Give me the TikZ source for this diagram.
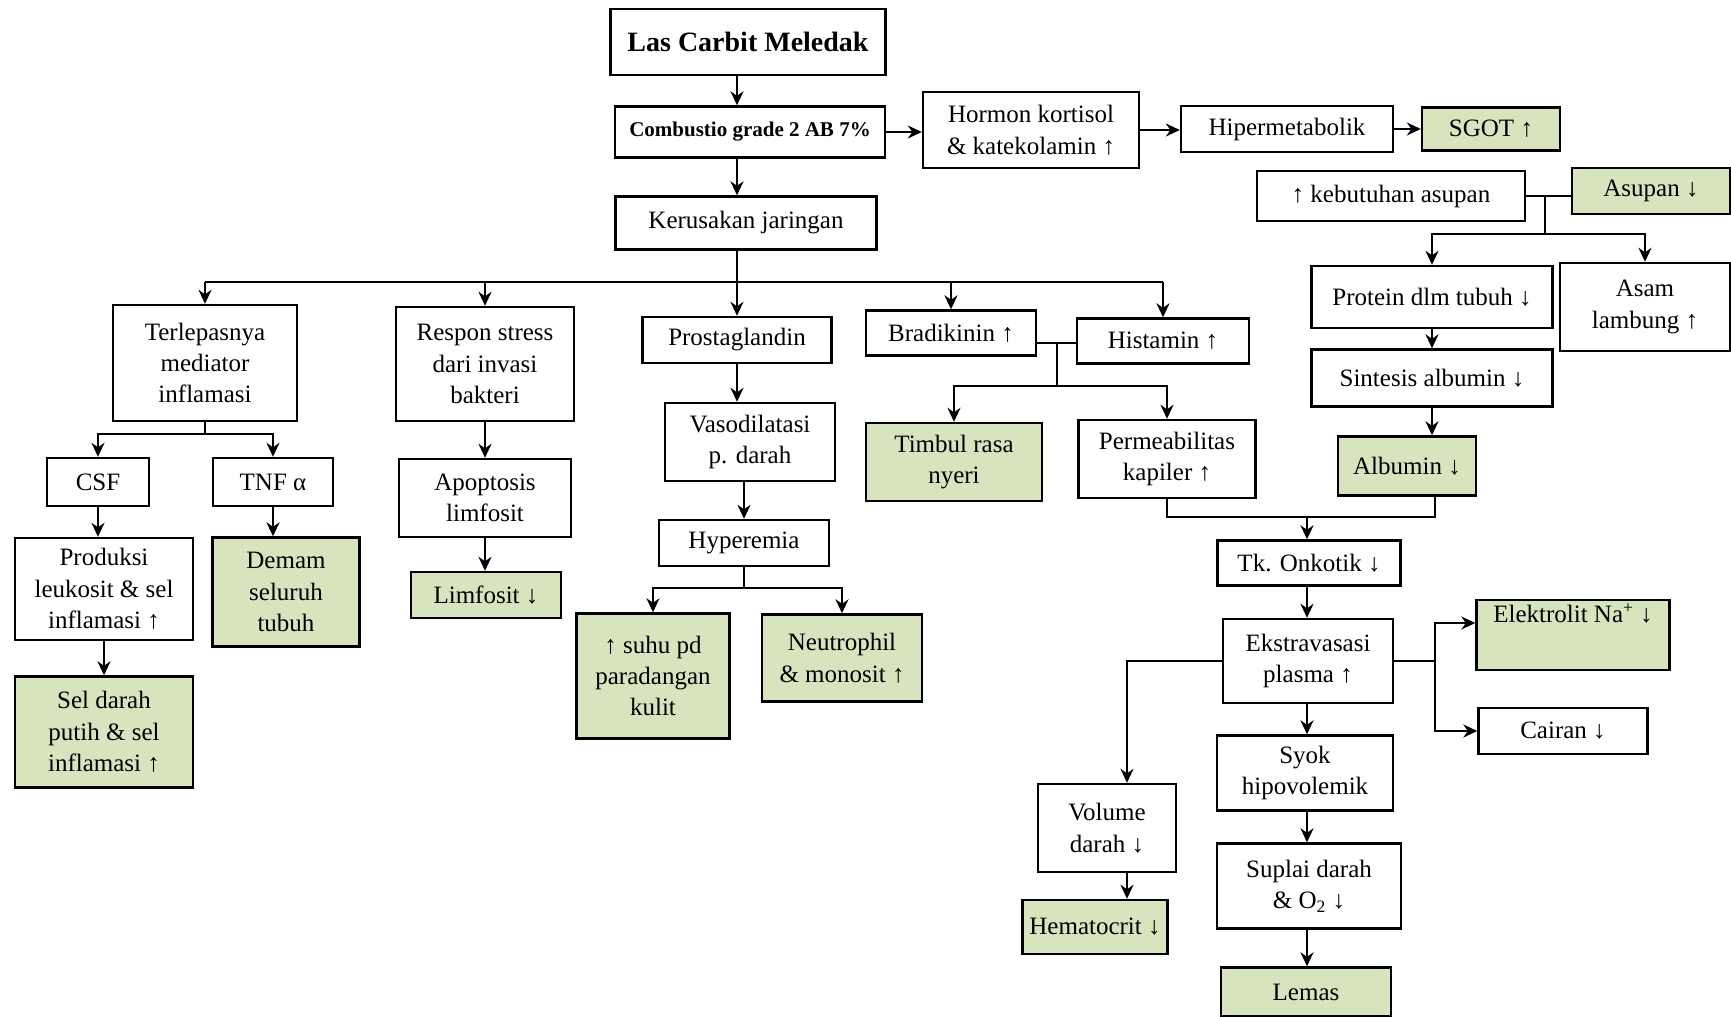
\documentclass[tikz,border=0pt]{standalone}
\usepackage{fontspec}
\setmainfont{Liberation Serif}
\usetikzlibrary{arrows.meta}

\definecolor{hasil}{HTML}{D7E4BD}
\tikzset{
    box/.style={draw, line width=1.2pt, fill=white, align=center, inner sep=2pt,
        font=\fontsize{12.5}{15.7}\selectfont},
    hbox/.style={box, fill=hasil},
    link/.style={line width=1.1pt},
    arr/.style={-{Stealth[length=7pt,width=6.5pt]}, line width=1.1pt},
}

\begin{document}
\begin{tikzpicture}[x=0.5pt,y=-0.5pt]
        \useasboundingbox (0,0) rectangle (1731,1017);

        % top chain
        \node[box, font=\fontsize{14}{16}\selectfont\bfseries, minimum width=137.5pt, minimum height=33pt] (Las) at (748,42) {Las Carbit Meledak};
        \node[box, font=\fontsize{10.5}{13}\selectfont\bfseries, minimum width=135pt, minimum height=25.5pt] (Comb) at (750,132) {Combustio grade 2 AB 7\%};
        \node[box, minimum width=130.5pt, minimum height=26.5pt] (Kerus) at (746,223) {Kerusakan jaringan};
        \node[box, minimum width=108pt, minimum height=38pt] (Horm) at (1031,130) {Hormon kortisol\\\& katekolamin ↑};
        \node[box, minimum width=106pt, minimum height=23pt] (Hiper) at (1287,129) {Hipermetabolik};
        \node[hbox, minimum width=69pt, minimum height=21.5pt] (SGOT) at (1491,129) {SGOT ↑};

        % asupan nodes
        \node[box, minimum width=134pt, minimum height=25pt] (Kebut) at (1391,196) {↑ kebutuhan asupan};
        \node[hbox, minimum width=79pt, minimum height=23pt] (Asupan) at (1651,191) {Asupan ↓};
        \node[box, minimum width=120.5pt, minimum height=31pt] (Protein) at (1432,297) {Protein dlm tubuh ↓};
        \node[box, minimum width=85pt, minimum height=44pt] (Asam) at (1645,307) {Asam\\lambung ↑};
        \node[box, minimum width=120.5pt, minimum height=28.5pt] (Sintesis) at (1432,378) {Sintesis albumin ↓};
        \node[hbox, minimum width=69pt, minimum height=29.5pt] (Albumin) at (1407,466) {Albumin ↓};

        % second row nodes
        \node[box, minimum width=92pt, minimum height=58pt] (Terlepas) at (205,363) {Terlepasnya\\mediator\\inflamasi};
        \node[box, minimum width=89pt, minimum height=57pt] (Respon) at (485,364) {Respon stress\\dari invasi\\bakteri};
        \node[box, minimum width=94.5pt, minimum height=23pt] (Prosta) at (737,340) {Prostaglandin};
        \node[box, minimum width=85pt, minimum height=22.5pt] (Bradi) at (951,333) {Bradikinin ↑};
        \node[box, minimum width=86pt, minimum height=22.5pt] (Hista) at (1163,341) {Histamin ↑};

        % mediator and stress nodes
        \node[box, minimum width=51pt, minimum height=24pt] (CSF) at (98,482) {CSF};
        \node[box, minimum width=60pt, minimum height=24pt] (TNF) at (273,482) {TNF α};
        \node[box, minimum width=89pt, minimum height=51pt] (Produksi) at (104,589) {Produksi\\leukosit \& sel\\inflamasi ↑};
        \node[hbox, minimum width=73.5pt, minimum height=54.5pt] (Demam) at (286,592) {Demam\\seluruh\\tubuh};
        \node[hbox, minimum width=89pt, minimum height=55.5pt] (SelDarah) at (104,732) {Sel darah\\putih \& sel\\inflamasi ↑};
        \node[box, minimum width=86pt, minimum height=39pt] (Apop) at (485,498) {Apoptosis\\limfosit};
        \node[hbox, minimum width=75pt, minimum height=23pt] (Limfo) at (486,595) {Limfosit ↓};

        % prostaglandin nodes
        \node[box, minimum width=85pt, minimum height=39pt] (Vaso) at (750,442) {Vasodilatasi\\p. darah};
        \node[box, minimum width=85pt, minimum height=23pt] (Hyper) at (744,543) {Hyperemia};
        \node[hbox, minimum width=76.5pt, minimum height=62.5pt] (Suhu) at (653,676) {↑ suhu pd\\paradangan\\kulit};
        \node[hbox, minimum width=80pt, minimum height=43.5pt] (Neutro) at (842,658) {Neutrophil\\\& monosit ↑};

        % bradikinin / histamin nodes
        \node[hbox, minimum width=88pt, minimum height=39pt] (Timbul) at (954,462) {Timbul rasa\\nyeri};
        \node[box, minimum width=88.5pt, minimum height=39pt] (Perme) at (1167,459) {Permeabilitas\\kapiler ↑};

        % plasma nodes
        \node[box, minimum width=91.5pt, minimum height=22.5pt] (Onkotik) at (1309,563) {Tk. Onkotik ↓};
        \node[box, minimum width=85pt, minimum height=42pt] (Ekstra) at (1308,661) {Ekstravasasi\\plasma ↑};
        \node[hbox, minimum width=96.5pt, minimum height=34.5pt] (Elektro) at (1573,635) {Elektrolit Na\textsuperscript{+} ↓\\[6pt]};
        \node[box, minimum width=84.5pt, minimum height=23pt] (Cairan) at (1563,731) {Cairan ↓};
        \node[box, minimum width=88pt, minimum height=37.5pt] (Syok) at (1305,773) {Syok\\hipovolemik};
        \node[box, minimum width=92pt, minimum height=42.5pt] (Suplai) at (1309,886) {Suplai darah\\\& O\textsubscript{2} ↓};
        \node[hbox, minimum width=85pt, minimum height=24.5pt] (Lemas) at (1306,992) {Lemas};
        \node[box, minimum width=69pt, minimum height=44pt] (Volume) at (1107,828) {Volume\\darah ↓};
        \node[hbox, minimum width=72.5pt, minimum height=27pt] (Hemato) at (1095,927) {Hematocrit ↓};

        % junction points
        \coordinate (bus) at (737,282);
        \coordinate (terlsplit) at (205,434);
        \coordinate (bhjoin) at (1057,343);
        \coordinate (bhsplit) at (1057,386);
        \coordinate (hypsplit) at (744,588);
        \coordinate (kajoin) at (1545,196);
        \coordinate (kasplit) at (1545,234);
        \coordinate (onk) at (1307,517);
        \coordinate (ekright) at (1435,659);
        \coordinate (plasma) at (1307,661);

        % top arrows
        \draw[arr] (Las.south -| bus) -- (Comb.north -| bus);
        \draw[arr] (Comb.south -| bus) -- (Kerus.north -| bus);
        \draw[arr] (Comb.east) -- (Comb.east -| Horm.west);
        \draw[arr] (Horm.east) -- (Horm.east -| Hiper.west);
        \draw[arr] (Hiper) -- (SGOT);

        % bus from kerusakan jaringan
        \draw[link] (Kerus.south -| bus) -- (bus);
        \draw[link] (bus -| Terlepas) -- (bus -| Hista);
        \draw[arr] (bus -| Terlepas) -- (Terlepas.north);
        \draw[arr] (bus -| Respon) -- (Respon.north);
        \draw[arr] (bus) -- (Prosta.north -| bus);
        \draw[arr] (bus -| Bradi) -- (Bradi.north);
        \draw[arr] (bus -| Hista) -- (Hista.north);

        % mediator branch
        \draw[link] (Terlepas) -- (terlsplit);
        \draw[arr] (terlsplit) -| (CSF);
        \draw[arr] (terlsplit) -| (TNF);
        \draw[arr] (CSF.south) -- (CSF.south |- Produksi.north);
        \draw[arr] (TNF.south) -- (TNF.south |- Demam.north);
        \draw[arr] (Produksi) -- (SelDarah);

        % stress branch
        \draw[arr] (Respon) -- (Apop);
        \draw[arr] (Apop.south) -- (Apop.south |- Limfo.north);

        % prostaglandin branch
        \draw[arr] (Prosta.south) -- (Prosta.south |- Vaso.north);
        \draw[arr] (Vaso.south -| Hyper) -- (Hyper.north);
        \draw[link] (Hyper) -- (hypsplit);
        \draw[arr] (hypsplit) -| (Suhu);
        \draw[arr] (hypsplit) -| (Neutro);

        % bradikinin and histamin join
        \draw[link] (Bradi.east |- bhjoin) -- (Hista.west |- bhjoin);
        \draw[link] (bhjoin) -- (bhsplit);
        \draw[arr] (bhsplit) -| (Timbul);
        \draw[arr] (bhsplit) -| (Perme);

        % asupan branch
        \draw[link] (Kebut.east) -- (Kebut.east -| Asupan.west);
        \draw[link] (kajoin) -- (kasplit);
        \draw[arr] (kasplit) -| (Protein);
        \draw[arr] (kasplit) -| (Asam);
        \draw[arr] (Protein) -- (Sintesis);
        \draw[arr] (Sintesis.south) -- (Sintesis.south |- Albumin.north);

        % onkotik and plasma
        \draw[link] (Perme.south) |- (onk);
        \draw[link] ([xshift=14pt]Albumin.south) |- (onk);
        \draw[arr] (onk) -- (onk |- Onkotik.north);
        \draw[arr] (Onkotik.south -| plasma) -- (Ekstra.north -| plasma);
        \draw[link] (Ekstra.east) -- (Ekstra.east -| ekright);
        \draw[arr] (ekright) |- ([yshift=6pt]Elektro.west);
        \draw[arr] (ekright) |- (Cairan);
        \draw[arr] (Ekstra.west) -| ([xshift=10pt]Volume.north);
        \draw[arr] ([xshift=10pt]Volume.south) -- ([xshift=10pt]Volume.south |- Hemato.north);
        \draw[arr] (Ekstra.south -| plasma) -- (Syok.north -| plasma);
        \draw[arr] (Syok.south -| plasma) -- (Suplai.north -| plasma);
        \draw[arr] (Suplai.south -| plasma) -- (Lemas.north -| plasma);
\end{tikzpicture}
\end{document}
